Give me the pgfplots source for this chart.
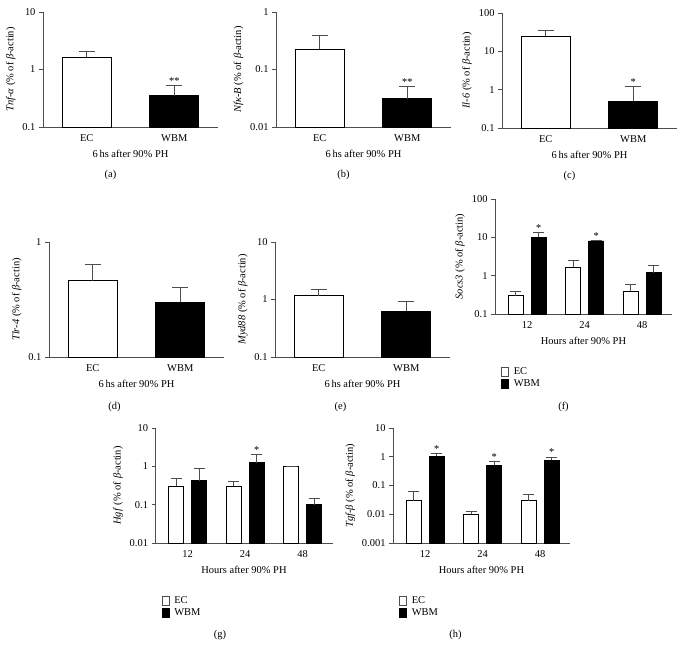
\documentclass[border=0pt]{standalone}
\usepackage{fontspec}
\setmainfont{Liberation Serif}
\usepackage{pgfplots}
\pgfplotsset{compat=1.18}
\definecolor{axgray}{HTML}{4D4D4D}
\newcommand{\fs}{\fontsize{10.5}{12.6}\selectfont}
\tikzset{plab/.style={font=\fs}}
\pgfplotsset{
  every axis/.append style={
    scale only axis, height=115bp,
    axis x line*=bottom, axis y line*=left,
    axis line style={axgray, line width=0.8pt},
    tick align=outside, major tick length=4bp,
    y tick style={axgray, line width=0.8pt},
    x tick style={draw=none},
    tick label style={font=\fs},
    label style={font=\fs},
    xlabel style={yshift=-2bp},
    clip=false,
    anchor=south west,
  },
  ecb/.style={ybar, bar shift=0pt, bar width=#1, draw=black, fill=white, line width=0.6pt,
    legend image code/.code={\draw[axgray, fill=white, line width=0.6pt] (0bp,-4.5bp) rectangle (7bp,4.5bp);}},
  wbb/.style={ybar, bar shift=0pt, bar width=#1, draw=black, fill=black, line width=0.6pt,
    legend image code/.code={\draw[black, fill=black, line width=0.6pt] (0bp,-4.5bp) rectangle (7bp,4.5bp);}},
  errl/.style={axgray, line width=0.8pt, mark=none, forget plot},
  pstars/.style={only marks, mark=none, nodes near coords, point meta=explicit symbolic, forget plot,
    every node near coord/.style={font=\fs, inner sep=1bp, black, anchor=south}},
}
% error bar: x, value, top, cap left, cap right
\newcommand{\eb}[5]{%
  \addplot[errl] coordinates {(#1,#2) (#1,#3)};
  \addplot[errl] coordinates {(#4,#3) (#5,#3)};}
\begin{document}
\begin{tikzpicture}
\path[use as bounding box] (0,0) rectangle (682bp,-646bp);

% (a)
\begin{axis}[ymode=log, log origin=infty, yminorticks=false, width=175bp, xmin=0.5, xmax=2.5, xtick={1,2}, xticklabels={EC,WBM},
  xlabel={6\,hs after 90\% PH},
  at={(43bp,-127bp)}, ymin=0.1, ymax=10, ytick={0.1,1,10}, yticklabels={0.1,1,10},
  ylabel={\textit{Tnf-α} (\% of \textit{β}-actin)}]
\addplot[ecb=0.56] coordinates {(1,1.64)};
\addplot[wbb=0.56] coordinates {(2,0.35)};
\eb{1}{1.64}{2.08}{0.91}{1.09}
\eb{2}{0.35}{0.53}{1.91}{2.09}
\addplot[pstars] coordinates {(2,0.53) [**]};
\node[plab] at ([xshift=-20bp,yshift=-48bp]rel axis cs:0.5,0) {(a)};
\end{axis}

% (b)
\begin{axis}[ymode=log, log origin=infty, yminorticks=false, width=175bp, xmin=0.5, xmax=2.5, xtick={1,2}, xticklabels={EC,WBM},
  xlabel={6\,hs after 90\% PH},
  at={(276bp,-127bp)}, ymin=0.01, ymax=1, ytick={0.01,0.1,1}, yticklabels={0.01,0.1,1},
  ylabel={\textit{Nfκ-B} (\% of \textit{β}-actin)}]
\addplot[ecb=0.56] coordinates {(1,0.225)};
\addplot[wbb=0.56] coordinates {(2,0.031)};
\eb{1}{0.225}{0.39}{0.91}{1.09}
\eb{2}{0.031}{0.05}{1.91}{2.09}
\addplot[pstars] coordinates {(2,0.05) [**]};
\node[plab] at ([xshift=-20bp,yshift=-48bp]rel axis cs:0.5,0) {(b)};
\end{axis}

% (c)
\begin{axis}[ymode=log, log origin=infty, yminorticks=false, width=175bp, xmin=0.5, xmax=2.5, xtick={1,2}, xticklabels={EC,WBM},
  xlabel={6\,hs after 90\% PH},
  at={(502bp,-128bp)}, ymin=0.1, ymax=100, ytick={0.1,1,10,100}, yticklabels={0.1,1,10,100},
  ylabel={\textit{Il-6} (\% of \textit{β}-actin)}]
\addplot[ecb=0.56] coordinates {(1,25)};
\addplot[wbb=0.56] coordinates {(2,0.51)};
\eb{1}{25}{34.5}{0.91}{1.09}
\eb{2}{0.51}{1.2}{1.91}{2.09}
\addplot[pstars] coordinates {(2,1.2) [*]};
\node[plab] at ([xshift=-20bp,yshift=-48bp]rel axis cs:0.5,0) {(c)};
\end{axis}

% (d)
\begin{axis}[ymode=log, log origin=infty, yminorticks=false, width=175bp, xmin=0.5, xmax=2.5, xtick={1,2}, xticklabels={EC,WBM},
  xlabel={6\,hs after 90\% PH},
  at={(49bp,-357bp)}, ymin=0.1, ymax=1, ytick={0.1,1}, yticklabels={0.1,1},
  ylabel={\textit{Tlr-4} (\% of \textit{β}-actin)}]
\addplot[ecb=0.56] coordinates {(1,0.46)};
\addplot[wbb=0.56] coordinates {(2,0.30)};
\eb{1}{0.46}{0.64}{0.91}{1.09}
\eb{2}{0.30}{0.40}{1.91}{2.09}
\node[plab] at ([xshift=-22bp,yshift=-50bp]rel axis cs:0.5,0) {(d)};
\end{axis}

% (e)
\begin{axis}[ymode=log, log origin=infty, yminorticks=false, width=175bp, xmin=0.5, xmax=2.5, xtick={1,2}, xticklabels={EC,WBM},
  xlabel={6\,hs after 90\% PH},
  at={(275bp,-357bp)}, ymin=0.1, ymax=10, ytick={0.1,1,10}, yticklabels={0.1,1,10},
  ylabel={\textit{Myd88} (\% of \textit{β}-actin)}]
\addplot[ecb=0.56] coordinates {(1,1.16)};
\addplot[wbb=0.56] coordinates {(2,0.62)};
\eb{1}{1.16}{1.51}{0.91}{1.09}
\eb{2}{0.62}{0.91}{1.91}{2.09}
\node[plab] at ([xshift=-22bp,yshift=-50bp]rel axis cs:0.5,0) {(e)};
\end{axis}

% (f)
\begin{axis}[ymode=log, log origin=infty, yminorticks=false, width=177bp, xmin=0.44, xmax=3.52, xtick={1,2,3}, xticklabels={12,24,48},
  xlabel={Hours after 90\% PH},
  legend style={draw=none, fill=none, at={(0,0)}, anchor=north west, xshift=3bp, yshift=-49bp, font=\fs, row sep=0.5bp, column sep=3bp},
  legend cell align=left,
  at={(495bp,-314bp)}, ymin=0.1, ymax=100, ytick={0.1,1,10,100}, yticklabels={0.1,1,10,100},
  ylabel={\textit{Socs3} (\% of \textit{β}-actin)}]
\addplot[ecb=0.26] coordinates {(0.8,0.30) (1.8,1.65) (2.8,0.39)};
\addlegendentry{EC}
\addplot[wbb=0.26] coordinates {(1.2,10) (2.2,8.1) (3.2,1.2)};
\addlegendentry{WBM}
\eb{0.8}{0.30}{0.40}{0.705}{0.895}
\eb{1.8}{1.65}{2.45}{1.705}{1.895}
\eb{2.8}{0.39}{0.58}{2.705}{2.895}
\eb{1.2}{10}{13.6}{1.105}{1.295}
\eb{2.2}{8.1}{8.4}{2.105}{2.295}
\eb{3.2}{1.2}{1.85}{3.105}{3.295}
\addplot[pstars] coordinates {(1.2,13.6) [*] (2.2,8.4) [*]};
\node[plab] at ([xshift=-20bp,yshift=-93bp]rel axis cs:0.5,0) {(f)};
\end{axis}

% (g)
\begin{axis}[ymode=log, log origin=infty, yminorticks=false, width=177bp, xmin=0.44, xmax=3.52, xtick={1,2,3}, xticklabels={12,24,48},
  xlabel={Hours after 90\% PH},
  legend style={draw=none, fill=none, at={(0,0)}, anchor=north west, xshift=3bp, yshift=-49bp, font=\fs, row sep=0.5bp, column sep=3bp},
  legend cell align=left,
  at={(155.5bp,-543bp)}, ymin=0.01, ymax=10, ytick={0.01,0.1,1,10}, yticklabels={0.01,0.1,1,10},
  ylabel={\textit{Hgf} (\% of \textit{β}-actin)}]
\addplot[ecb=0.26] coordinates {(0.8,0.30) (1.8,0.30) (2.8,1.0)};
\addlegendentry{EC}
\addplot[wbb=0.26] coordinates {(1.2,0.42) (2.2,1.25) (3.2,0.10)};
\addlegendentry{WBM}
\eb{0.8}{0.30}{0.49}{0.705}{0.895}
\eb{1.8}{0.30}{0.40}{1.705}{1.895}
\eb{2.8}{1.0}{1.02}{2.705}{2.895}
\eb{1.2}{0.42}{0.87}{1.105}{1.295}
\eb{2.2}{1.25}{2.05}{2.105}{2.295}
\eb{3.2}{0.10}{0.15}{3.105}{3.295}
\addplot[pstars] coordinates {(2.2,2.05) [*]};
\node[plab] at ([xshift=-24bp,yshift=-92bp]rel axis cs:0.5,0) {(g)};
\end{axis}

% (h)
\begin{axis}[ymode=log, log origin=infty, yminorticks=false, width=177bp, xmin=0.44, xmax=3.52, xtick={1,2,3}, xticklabels={12,24,48},
  xlabel={Hours after 90\% PH},
  legend style={draw=none, fill=none, at={(0,0)}, anchor=north west, xshift=3bp, yshift=-49bp, font=\fs, row sep=0.5bp, column sep=3bp},
  legend cell align=left,
  at={(393bp,-543bp)}, ymin=0.001, ymax=10, ytick={0.001,0.01,0.1,1,10}, yticklabels={0.001,0.01,0.1,1,10},
  ylabel={\textit{Tgf-β} (\% of \textit{β}-actin)}]
\addplot[ecb=0.26] coordinates {(0.8,0.03) (1.8,0.01) (2.8,0.03)};
\addlegendentry{EC}
\addplot[wbb=0.26] coordinates {(1.2,1.05) (2.2,0.5) (3.2,0.75)};
\addlegendentry{WBM}
\eb{0.8}{0.03}{0.06}{0.705}{0.895}
\eb{1.8}{0.01}{0.013}{1.705}{1.895}
\eb{2.8}{0.03}{0.05}{2.705}{2.895}
\eb{1.2}{1.05}{1.3}{1.105}{1.295}
\eb{2.2}{0.5}{0.67}{2.105}{2.295}
\eb{3.2}{0.75}{0.97}{3.105}{3.295}
\addplot[pstars] coordinates {(1.2,1.3) [*] (2.2,0.67) [*] (3.2,0.97) [*]};
\node[plab] at ([xshift=-26bp,yshift=-92bp]rel axis cs:0.5,0) {(h)};
\end{axis}
\end{tikzpicture}
\end{document}
